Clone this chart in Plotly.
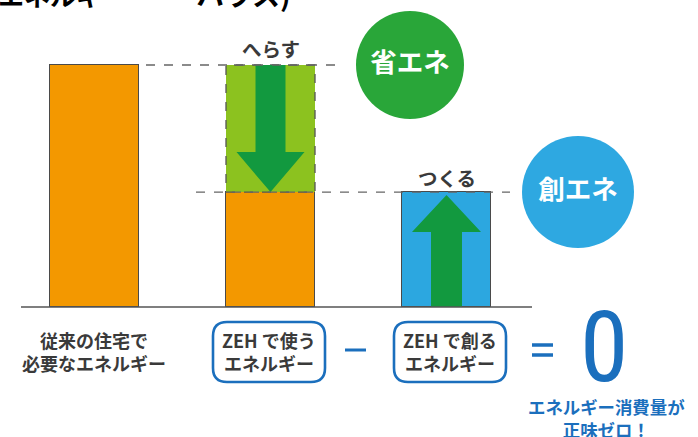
import plotly.graph_objects as go

# ---------------- data ----------------
categories = ["従来の住宅で必要なエネルギー", "ZEHで使うエネルギー", "ZEHで創るエネルギー"]
label_lines = [["従来の住宅で", "必要なエネルギー"],
               ["ZEH で使う", "エネルギー"],
               ["ZEH で創る", "エネルギー"]]
used_energy = [100, 47.5, None]      # orange
saved_energy = [None, 52.5, None]    # light green (省エネ)
created_energy = [None, None, 47.5]  # blue (創エネ)
arrow_labels = ["へらす", "つくる"]
badge_labels = ["省エネ", "創エネ"]
result_value = "0"
result_caption = ["エネルギー消費量が", "正味ゼロ！"]
title_parts = ["エネルギー", "ハウス)"]

# ---------------- layout constants ----------------
W, H = 698, 437
X0, XS = 94.5, 176.0      # pixel of first category, pixels per category
Y0, YS = 307.0, 2.42      # pixel of baseline, pixels per unit
xs = [0, 1, 2]

def px2x(px):
    return (px - X0) / XS

def py2y(py):
    return (Y0 - py) / YS

ORANGE = "#f39800"
LGREEN = "#8cc21f"
DGREEN = "#12993f"
BLUE = "#2ca7e0"
CGREEN = "#29a639"
CBLUE = "#2ea8e1"
NAVY = "#1b6fbd"
EDGE = "#4a4a4a"
TXT = "#3a3a3a"
JP = "Noto Sans CJK JP"

bw = 89 / XS

fig = go.Figure()
fig.add_bar(x=xs, y=used_energy, width=bw, marker=dict(color=ORANGE, line=dict(color=EDGE, width=1.5)),
            hoverinfo="skip", showlegend=False)
fig.add_bar(x=xs, y=saved_energy, width=bw, marker=dict(color=LGREEN, line=dict(width=0)),
            hoverinfo="skip", showlegend=False)
fig.add_bar(x=xs, y=created_energy, width=bw, marker=dict(color=BLUE, line=dict(color=EDGE, width=1.5)),
            hoverinfo="skip", showlegend=False)

shapes = []
# dashed outline of the saved part
top_total = used_energy[1] + saved_energy[1]
shapes.append(dict(type="rect", xref="x", yref="y", x0=1 - bw / 2, x1=1 + bw / 2,
                   y0=used_energy[1], y1=top_total, line=dict(color="#555555", width=1.3, dash="dash")))

# arrows
def down_arrow(xc, top, tip, shw, hhw, hh):
    return (f"M{xc-shw},{top} L{xc+shw},{top} L{xc+shw},{tip+hh} L{xc+hhw},{tip+hh} "
            f"L{xc},{tip} L{xc-hhw},{tip+hh} L{xc-shw},{tip+hh} Z")

def up_arrow(xc, bottom, tip, shw, hhw, hh):
    return (f"M{xc-shw},{bottom} L{xc+shw},{bottom} L{xc+shw},{tip-hh} L{xc+hhw},{tip-hh} "
            f"L{xc},{tip} L{xc-hhw},{tip-hh} L{xc-shw},{tip-hh} Z")

shapes.append(dict(type="path", xref="x", yref="y",
                   path=down_arrow(1, top_total, used_energy[1], 15 / XS, 34 / XS, 40 / YS),
                   fillcolor=DGREEN, line=dict(width=0)))
shapes.append(dict(type="path", xref="x", yref="y",
                   path=up_arrow(2, 0, created_energy[2] - 3 / YS, 15.5 / XS, 34.5 / XS, 37 / YS),
                   fillcolor=DGREEN, line=dict(width=0)))

# dashed guide lines
shapes.append(dict(type="line", xref="x", yref="y", x0=px2x(146), x1=px2x(337),
                   y0=used_energy[0], y1=used_energy[0], line=dict(color="#666666", width=1.3, dash="dash")))
shapes.append(dict(type="line", xref="x", yref="y", x0=px2x(196), x1=px2x(510),
                   y0=created_energy[2], y1=created_energy[2], line=dict(color="#666666", width=1.3, dash="dash")))

# baseline
shapes.append(dict(type="line", xref="x", yref="y", x0=px2x(21), x1=px2x(532), y0=0, y1=0,
                   line=dict(color="#555555", width=1.6)))

# rounded label boxes
def rrect(x0, y0, x1, y1, r):
    def P(px, py):
        return f"{px2x(px)},{py2y(py)}"
    return (f"M{P(x0+r,y0)} L{P(x1-r,y0)} Q{P(x1,y0)} {P(x1,y0+r)} L{P(x1,y1-r)} "
            f"Q{P(x1,y1)} {P(x1-r,y1)} L{P(x0+r,y1)} Q{P(x0,y1)} {P(x0,y1-r)} "
            f"L{P(x0,y0+r)} Q{P(x0,y0)} {P(x0+r,y0)} Z")

for cx in (269, 450):
    shapes.append(dict(type="path", xref="x", yref="y", path=rrect(cx - 56, 322, cx + 56, 382, 14),
                       line=dict(color=NAVY, width=2.6), fillcolor="rgba(0,0,0,0)"))

# minus and equals
shapes.append(dict(type="line", xref="x", yref="y", x0=px2x(345), x1=px2x(366),
                   y0=py2y(350), y1=py2y(350), line=dict(color=NAVY, width=3)))
for yy in (345, 355):
    shapes.append(dict(type="line", xref="x", yref="y", x0=px2x(532), x1=px2x(553),
                       y0=py2y(yy), y1=py2y(yy), line=dict(color=NAVY, width=3.5)))

# badges (circles)
fig.add_scatter(x=[px2x(410), px2x(578)], y=[used_energy[0], created_energy[2]],
                mode="markers+text", text=badge_labels, textposition="middle center",
                textfont=dict(family=JP, size=26.5, color="white", weight="bold"),
                marker=dict(size=[108, 112], color=[CGREEN, CBLUE], opacity=1, line=dict(width=0)),
                hoverinfo="skip", showlegend=False, cliponaxis=False)

ann = []
# category labels
label_x = [94, 269, 450]
for lx, lines in zip(label_x, label_lines):
    ann.append(dict(x=px2x(lx), y=py2y(351), xref="x", yref="y", text="<br>".join(lines), showarrow=False,
                    xanchor="center", yanchor="middle", align="center",
                    font=dict(family=JP, size=18, color=TXT, weight="bold")))
# arrow labels
ann.append(dict(x=1, y=py2y(48), xref="x", yref="y", text=arrow_labels[0], showarrow=False,
                font=dict(family=JP, size=19.5, color=TXT, weight="bold")))
ann.append(dict(x=2, y=py2y(177), xref="x", yref="y", text=arrow_labels[1], showarrow=False,
                font=dict(family=JP, size=19.5, color=TXT, weight="bold")))
# result
ann.append(dict(x=px2x(603.5), y=py2y(347), xref="x", yref="y", text=result_value, showarrow=False,
                font=dict(family="Liberation Sans Narrow, Roboto Condensed, Roboto", size=98, color=NAVY)))
ann.append(dict(x=px2x(606), y=py2y(418), xref="x", yref="y", text="<br>".join(result_caption),
                showarrow=False, align="center",
                font=dict(family=JP, size=17.4, color=NAVY, weight="bold")))
# cropped title (only its lower edge is inside the picture)
ann.append(dict(x=px2x(0), y=py2y(0), xref="x", yref="y", text=title_parts[0], showarrow=False,
                xanchor="left", yanchor="middle", xshift=-4, yshift=6,
                font=dict(family=JP, size=26, color="black", weight="bold")))
ann.append(dict(x=px2x(194), y=py2y(0), xref="x", yref="y", text=title_parts[1], showarrow=False,
                xanchor="left", yanchor="middle", yshift=6,
                font=dict(family=JP, size=28, color="black", weight="bold")))

fig.update_layout(
    width=W, height=H, autosize=False,
    margin=dict(l=0, r=0, t=0, b=0),
    paper_bgcolor="white", plot_bgcolor="white",
    barmode="stack", bargap=0,
    xaxis=dict(range=[px2x(0), px2x(W)], visible=False, fixedrange=True),
    yaxis=dict(range=[py2y(H), py2y(0)], visible=False, fixedrange=True),
    shapes=shapes, annotations=ann,
)

fig.write_html("out.html", config={"displayModeBar": False},
               post_script="document.body.style.margin='0';document.body.style.overflow='hidden';")
